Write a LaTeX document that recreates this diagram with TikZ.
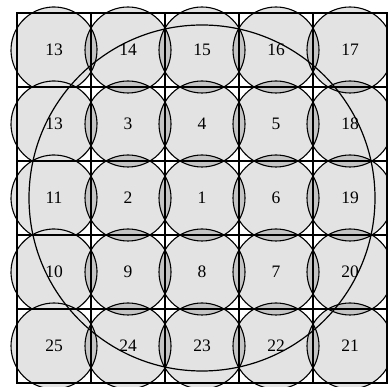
\documentclass[tikz,border=0pt]{standalone}
\usepackage{fontspec}
\setmainfont{Liberation Serif}
\definecolor{cellgray}{HTML}{E3E3E3}
\definecolor{lensgray}{HTML}{C4C4C4}
\begin{document}
\begin{tikzpicture}[x=1pt,y=1pt,
  cfill/.style={fill=cellgray},
  lensfill/.style={fill=lensgray},
  cline/.style={draw=black,line width=1.1pt},
  gridline/.style={draw=black,line width=1.3pt},
  bigline/.style={draw=black,line width=1.2pt},
  lab/.style={font=\fontsize{17.5}{20}\selectfont,inner sep=0pt}]
\useasboundingbox (0,0) rectangle (388,387);
\def\R{43}
% circle fills
\foreach \i in {1,...,5}{\foreach \j in {1,...,5}{
  \pgfmathsetmacro{\cx}{54+74*(\j-1)}
  \pgfmathsetmacro{\cy}{337-74*(\i-1)}
  \fill[cfill] (\cx,\cy) circle (\R);
}}
% horizontal-neighbour lenses
\foreach \i in {1,...,5}{\foreach \j in {1,...,4}{
  \pgfmathsetmacro{\cx}{54+74*(\j-1)}
  \pgfmathsetmacro{\cy}{337-74*(\i-1)}
  \pgfmathsetmacro{\dx}{\cx+74}
  \begin{scope}
    \clip (\cx,\cy) circle (\R);
    \fill[lensfill] (\dx,\cy) circle (\R);
  \end{scope}
}}
% vertical-neighbour lenses (columns 2-5)
\foreach \i in {1,...,4}{\foreach \j in {2,...,5}{
  \pgfmathsetmacro{\cx}{54+74*(\j-1)}
  \pgfmathsetmacro{\cy}{337-74*(\i-1)}
  \pgfmathsetmacro{\dy}{\cy-74}
  \begin{scope}
    \clip (\cx,\cy) circle (\R);
    \fill[lensfill] (\cx,\dy) circle (\R);
  \end{scope}
}}
% grid
\draw[gridline,shift={(17,4)}] (0,0) grid[step=74] (370,370);
\draw[gridline] (17,4) rectangle (387,374);
% circle outlines, columns 2-5
\foreach \i in {1,...,5}{\foreach \j in {2,...,5}{
  \pgfmathsetmacro{\cx}{54+74*(\j-1)}
  \pgfmathsetmacro{\cy}{337-74*(\i-1)}
  \draw[cline] (\cx,\cy) circle (\R);
}}
% column 1 outlines (bottom arc hidden by the circle below)
\foreach \i in {1,...,4}{
  \pgfmathsetmacro{\cy}{337-74*(\i-1)}
  \draw[cline] (54,\cy) ++(-59.4:\R) arc[start angle=-59.4,end angle=239.4,radius=\R];
}
\draw[cline] (54,41) circle (\R);
% labels
\foreach \t [count=\k from 0] in {13,14,15,16,17,13,3,4,5,18,11,2,1,6,19,10,9,8,7,20,25,24,23,22,21}{
  \pgfmathtruncatemacro{\i}{int(\k/5)}
  \pgfmathtruncatemacro{\j}{mod(\k,5)}
  \node[lab] (n\k) at ({54+74*\j},{337-74*\i}) {\t};
}
% big circle
\coordinate (ctr) at (202,189);
\draw[bigline] (ctr) circle (173);
\end{tikzpicture}
\end{document}
